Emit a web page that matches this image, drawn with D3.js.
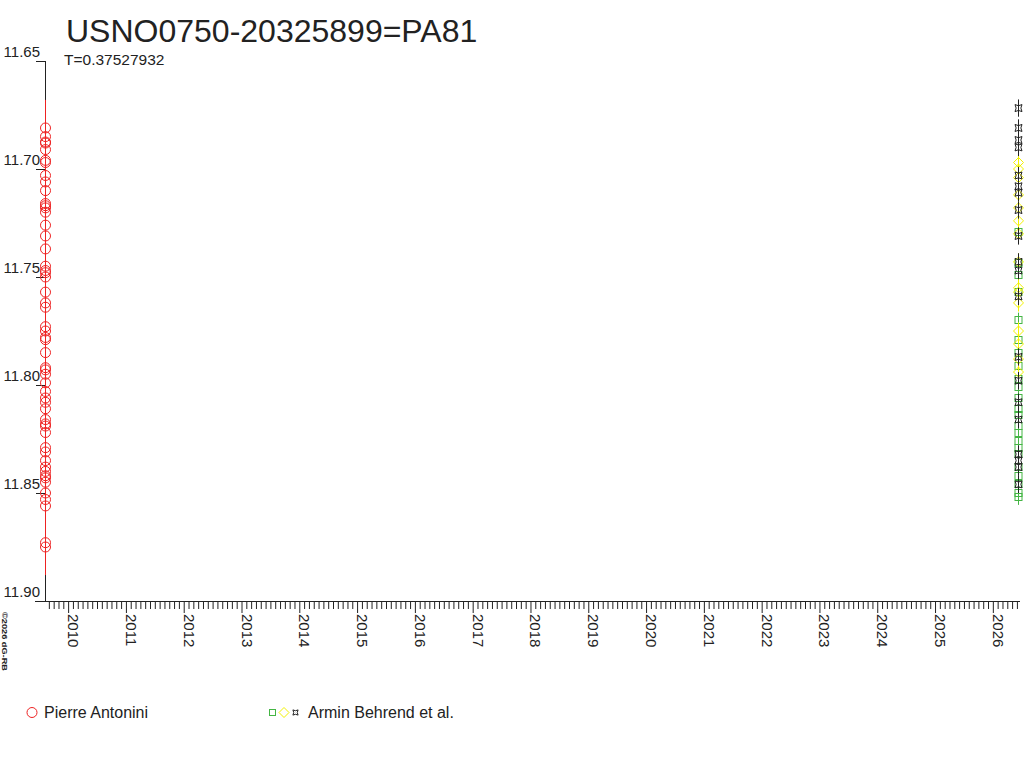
<!DOCTYPE html>
<html>
<head>
<meta charset="utf-8">
<script src="https://cdn.jsdelivr.net/npm/d3@7"></script>
<style>
  html, body { margin: 0; padding: 0; background: #fff; }
  svg { display: block; font-family: "Liberation Sans", Arial, sans-serif; }
</style>
</head>
<body>
<svg id="chart" width="1024" height="768"></svg>
<script>
// ---- data ----
const titleText = "USNO0750-20325899=PA81";
const subtitleText = "T=0.37527932";
const copyrightText = "©2026 dG-RB";

const yTicks = [11.65, 11.70, 11.75, 11.80, 11.85, 11.90];
const yTickLabels = ["11.65", "11.70", "11.75", "11.80", "11.85", "11.90"];
const xYears = [2010, 2011, 2012, 2013, 2014, 2015, 2016, 2017, 2018, 2019, 2020, 2021, 2022, 2023, 2024, 2025, 2026];

// Pierre Antonini (red circles), one night
const antoniniDate = 2009.60;
const antoniniMag = [11.681, 11.685, 11.6875, 11.688, 11.691, 11.696, 11.697, 11.703, 11.706, 11.710,
  11.716, 11.717, 11.718, 11.720, 11.726, 11.731, 11.737, 11.745, 11.747, 11.748, 11.750, 11.757,
  11.762, 11.764, 11.773, 11.775, 11.778, 11.779, 11.785, 11.792, 11.793, 11.795, 11.799, 11.803,
  11.806, 11.808, 11.811, 11.816, 11.818, 11.819, 11.822, 11.829, 11.831, 11.835, 11.838, 11.840,
  11.842, 11.843, 11.845, 11.850, 11.853, 11.856, 11.873, 11.875];
const antoniniErr = 0.013;

// Armin Behrend et al. (green squares, yellow diamonds, black ¤)
const behrendDate = 2026.44;
const behrendGreenMag = [11.729, 11.7435, 11.749, 11.757, 11.770, 11.779, 11.785, 11.791, 11.797, 11.801,
  11.806, 11.811, 11.814, 11.819, 11.822, 11.826, 11.829, 11.832, 11.838, 11.842, 11.846, 11.850, 11.852];
const behrendGreenErr = 0.0035;
const behrendYellowMag = [11.697, 11.700, 11.704, 11.712, 11.718, 11.724, 11.730, 11.743, 11.755, 11.757,
  11.762, 11.775, 11.781, 11.788, 11.794];
const behrendYellowErr = 0.004;
const behrendBlackMag = [11.6718, 11.681, 11.6866, 11.690, 11.703, 11.708, 11.711, 11.719, 11.731, 11.743,
  11.747, 11.759, 11.787, 11.798, 11.808, 11.816, 11.832, 11.835, 11.838, 11.846];
const behrendBlackErr = 0.004;

const legendNames = ["Pierre Antonini", "Armin Behrend et al."];

// ---- drawing ----
const colRed = "#ee2222", colGreen = "#44b544", colYellow = "#f2f200", colBlack = "#222222", colText = "#222222";
const svg = d3.select("#chart");

const x = d3.scaleLinear().domain([2009.60, 2026.47]).range([45, 1020]);
const y = d3.scaleLinear().domain([11.65, 11.90]).range([61, 601]);

// title
svg.append("text").attr("x", 66).attr("y", 42).attr("font-size", 32).attr("fill", colText).text(titleText);
svg.append("text").attr("x", 64).attr("y", 65).attr("font-size", 15.5).attr("fill", colText).text(subtitleText);

// y axis
const yAxis = d3.axisLeft(y).tickValues(yTicks).tickSize(9).tickFormat("");
const gy = svg.append("g").attr("transform", "translate(45,0)").call(yAxis);
gy.select(".domain").remove();
gy.selectAll(".tick line").attr("stroke", colText);
svg.append("line").attr("x1", 45.5).attr("x2", 45.5).attr("y1", y(11.65)).attr("y2", y(11.90)).attr("stroke", colText);
svg.selectAll(".ylab").data(yTicks).enter().append("text")
  .attr("class", "ylab").attr("x", 40).attr("y", d => y(d) - 4)
  .attr("text-anchor", "end").attr("font-size", 15).attr("fill", colText)
  .text((d, i) => yTickLabels[i]);

// x axis
const minorTicks = [];
for (let yr = 2009; yr <= 2026; yr++) {
  for (let m = 1; m < 12; m++) {
    const v = yr + m / 12;
    if (v >= x.domain()[0] && v <= x.domain()[1]) minorTicks.push(v);
  }
}
const gxMinor = svg.append("g").attr("transform", "translate(0,601)")
  .call(d3.axisBottom(x).tickValues(minorTicks).tickSize(8).tickFormat(""));
gxMinor.select(".domain").remove();
gxMinor.selectAll(".tick line").attr("stroke", colText);
const gxMajor = svg.append("g").attr("transform", "translate(0,601)")
  .call(d3.axisBottom(x).tickValues(xYears).tickSize(12).tickFormat(""));
gxMajor.select(".domain").remove();
gxMajor.selectAll(".tick line").attr("stroke", colText);
svg.append("line").attr("x1", 35).attr("x2", 1020).attr("y1", 601.5).attr("y2", 601.5).attr("stroke", colText);
svg.selectAll(".xlab").data(xYears).enter().append("text")
  .attr("class", "xlab")
  .attr("transform", d => `translate(${Math.round(x(d))},614) rotate(90)`)
  .attr("font-size", 15).attr("fill", colText).text(d => d);

// copyright
svg.append("text").attr("transform", "translate(2,612) rotate(90)")
  .attr("font-size", 7).attr("font-weight", "bold").attr("fill", colText)
  .attr("textLength", 59).attr("lengthAdjust", "spacingAndGlyphs").text(copyrightText);

// symbols
const starPath = s => `M${-s},${-s} Q0,${-s * 0.35} ${s},${-s} Q${s * 0.35},0 ${s},${s} Q0,${s * 0.35} ${-s},${s} Q${-s * 0.35},0 ${-s},${-s} Z`;
const diamondPath = s => `M0,${-s} L${s},0 L0,${s} L${-s},0 Z`;

function errBars(data, date, err, color) {
  svg.append("g").selectAll("line").data(data).enter().append("line")
    .attr("x1", Math.round(x(date)) + 0.5).attr("x2", Math.round(x(date)) + 0.5)
    .attr("y1", d => y(d - err)).attr("y2", d => y(d + err))
    .attr("stroke", color).attr("stroke-width", 1);
}

// Antonini
errBars(antoniniMag, antoniniDate, antoniniErr, colRed);
svg.append("g").selectAll("circle").data(antoniniMag).enter().append("circle")
  .attr("cx", Math.round(x(antoniniDate)) + 0.5).attr("cy", d => y(d)).attr("r", 5)
  .attr("fill", "none").attr("stroke", colRed);

// Behrend
const bx = Math.round(x(behrendDate)) + 0.5;
errBars(behrendGreenMag, behrendDate, behrendGreenErr, colGreen);
svg.append("g").selectAll("rect").data(behrendGreenMag).enter().append("rect")
  .attr("x", bx - 3.5).attr("y", d => Math.round(y(d)) - 3.5).attr("width", 7).attr("height", 7)
  .attr("fill", "none").attr("stroke", colGreen);
errBars(behrendYellowMag, behrendDate, behrendYellowErr, colYellow);
svg.append("g").selectAll("path").data(behrendYellowMag).enter().append("path")
  .attr("transform", d => `translate(${bx},${y(d)})`).attr("d", diamondPath(5))
  .attr("fill", "none").attr("stroke", colYellow);
errBars(behrendBlackMag, behrendDate, behrendBlackErr, colBlack);
svg.append("g").selectAll("path").data(behrendBlackMag).enter().append("path")
  .attr("transform", d => `translate(${bx},${y(d)})`).attr("d", starPath(3.5))
  .attr("fill", "none").attr("stroke", colBlack);

// legend
const lg = svg.append("g");
lg.append("circle").attr("cx", 32).attr("cy", 712.5).attr("r", 5).attr("fill", "none").attr("stroke", colRed);
lg.append("text").attr("x", 44).attr("y", 718).attr("font-size", 16).attr("fill", colText).text(legendNames[0]);
lg.append("rect").attr("x", 269.5).attr("y", 709.5).attr("width", 6).attr("height", 6).attr("fill", "none").attr("stroke", colGreen);
lg.append("path").attr("transform", "translate(284,712.5)").attr("d", diamondPath(5)).attr("fill", "none").attr("stroke", colYellow);
lg.append("path").attr("transform", "translate(295.5,712.5)").attr("d", starPath(2.6)).attr("fill", "none").attr("stroke", colBlack);
lg.append("text").attr("x", 308).attr("y", 718).attr("font-size", 16).attr("fill", colText).text(legendNames[1]);
</script>
</body>
</html>
